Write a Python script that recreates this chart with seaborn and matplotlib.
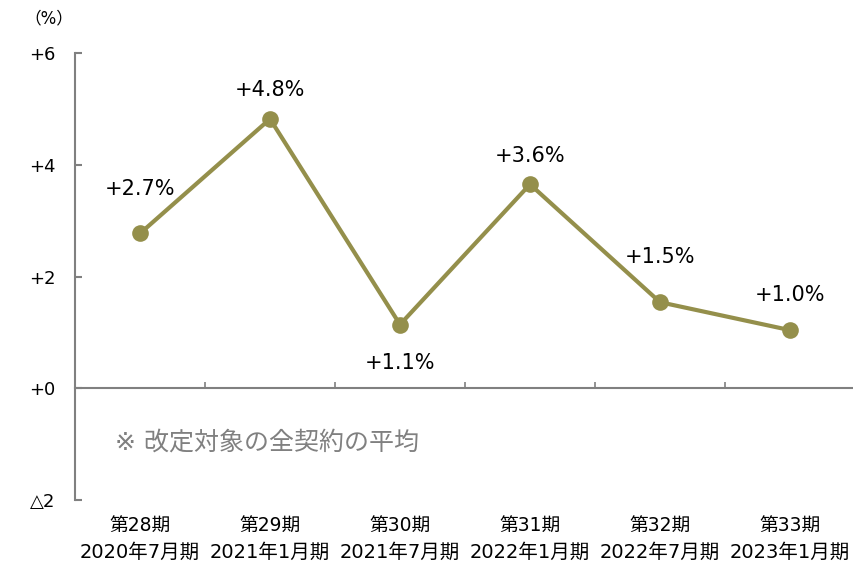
import pandas as pd
import matplotlib.pyplot as plt
import matplotlib.transforms as mtransforms
import seaborn as sns

# Daten
periods = ["第28期", "第29期", "第30期", "第31期", "第32期", "第33期"]
months = ["2020年7月期", "2021年1月期", "2021年7月期", "2022年1月期", "2022年7月期", "2023年1月期"]
values = [2.77, 4.82, 1.14, 3.65, 1.54, 1.04]
value_labels = ["+2.7%", "+4.8%", "+1.1%", "+3.6%", "+1.5%", "+1.0%"]
y_ticks = [-2, 0, 2, 4, 6]
y_ticklabels = ["△2", "+0", "+2", "+4", "+6"]

# Beschriftungsabstand (Pixel) über/unter den Punkten
label_offsets = [44, 29, -38, 28, 45, 35]

sns.set_style("white")
plt.rcParams["font.family"] = ["DejaVu Sans", "Noto Sans CJK JP"]
plt.rcParams["text.color"] = "black"
plt.rcParams["ytick.labelcolor"] = "black"

line_color = "#948f4b"
axis_color = "#808080"

df = pd.DataFrame({"idx": range(len(values)), "value": values})

fig = plt.figure(figsize=(8.54, 5.66), dpi=100)
ax = fig.add_axes([75 / 854, 1 - 500 / 566, 780 / 854, 447 / 566])

sns.lineplot(data=df, x="idx", y="value", ax=ax, color=line_color, linewidth=3,
             marker="o", markersize=12, markeredgewidth=0)

ax.set_xlim(-0.5, len(values) - 0.5)
ax.set_ylim(-2, 6)
ax.set_xlabel("")
ax.set_ylabel("")

# Achsen
for s in ["top", "right"]:
    ax.spines[s].set_visible(False)
ax.spines["left"].set_color(axis_color)
ax.spines["left"].set_linewidth(1.5)
ax.spines["bottom"].set_position(("data", 0))
ax.spines["bottom"].set_color(axis_color)
ax.spines["bottom"].set_linewidth(1.5)

ax.set_yticks(y_ticks)
ax.set_yticklabels(y_ticklabels, fontsize=13)
ax.tick_params(axis="y", left=True, direction="in", length=5, width=1.5, color=axis_color,
               labelcolor="black", pad=14)

ax.set_xticks([i + 0.5 for i in range(len(values) - 1)])
ax.set_xticklabels([])
ax.tick_params(axis="x", bottom=True, direction="in", length=4, width=1.2, color=axis_color)

# Kategorien unten
trans = mtransforms.blended_transform_factory(ax.transData, ax.transAxes)
for i, (p, m) in enumerate(zip(periods, months)):
    ax.text(i, -0.06, p, transform=trans, ha="center", va="center", fontsize=13.5, color="black")
    ax.text(i, -0.118, m, transform=trans, ha="center", va="center", fontsize=14, color="black")

# Werte auf die Punkte schreiben
for i, (v, lab, off) in enumerate(zip(values, value_labels, label_offsets)):
    ax.annotate(lab, (i, v), xytext=(0, off), textcoords="offset pixels",
                ha="center", va="center", fontsize=15, color="black")

ax.text((115 - 75) / 780, (500 - 443) / 447, "※ 改定対象の全契約の平均", transform=ax.transAxes,
        ha="left", va="center", fontsize=18, color=axis_color)

fig.text(24 / 854, 1 - 18 / 566, "（%）", ha="left", va="center", fontsize=12, color="black")

plt.savefig("out.png", dpi=100)
